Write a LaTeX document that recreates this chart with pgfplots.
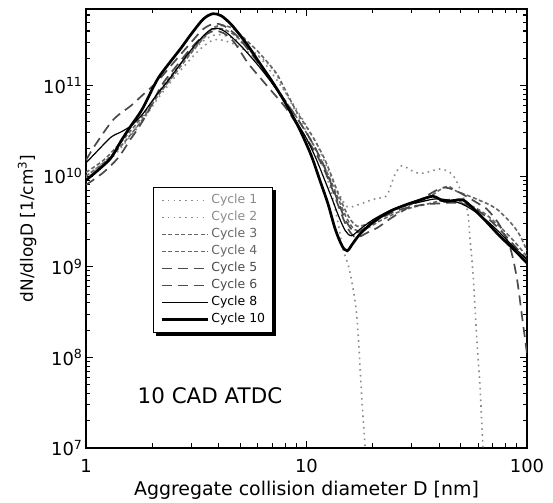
\documentclass[border=0pt]{standalone}
\usepackage{fontspec}
\setmainfont{DejaVu Sans}
\usepackage{pgfplots}
\pgfplotsset{compat=1.18}
\usetikzlibrary{backgrounds}

\definecolor{cyc12}{HTML}{8C8C8C}
\definecolor{cyc34}{HTML}{666666}
\definecolor{cyc56}{HTML}{4A4A4A}

\begin{document}
\begin{tikzpicture}
\begin{axis}[
  at={(0,0)}, anchor=south west,
  scale only axis, width=441bp, height=439bp,
  xmode=log, ymode=log,
  xmin=1, xmax=100, ymin=1e7, ymax=7e11,
  tick pos=both, tick align=inside,
  major tick length=7bp, minor tick length=4.5bp,
  every tick/.style={black, line width=1.1bp},
  axis line style={line width=1.5bp},
  xticklabel={\pgfmathparse{int(round(exp(\tick)))}\pgfmathresult},
  yticklabel={10\textsuperscript{\pgfmathparse{int(round(\tick/2.302585))}\pgfmathresult}},
  ticklabel style={font=\fontsize{18}{20}\selectfont},
  xticklabel style={yshift=-8bp},
  xlabel={Aggregate collision diameter D [nm]},
  ylabel={dN/dlogD [1/cm\textsuperscript{3}]},
  xlabel style={font=\fontsize{19}{21}\selectfont, yshift=-1bp},
  ylabel style={font=\fontsize{17}{19}\selectfont},
  legend cell align=left,
  legend style={name=leg, at={(0.152,0.5945)}, anchor=north west,
    draw=black, line width=1.2bp, fill=white,
    font=\fontsize{12.5}{14}\selectfont,
    nodes={inner sep=0pt, text height=9bp, text depth=2.5bp},
    row sep=5.5bp, column sep=2bp, inner xsep=7bp, inner ysep=7bp},
  legend image code/.code={\draw[#1] (0bp,0bp) -- (46bp,0bp);},
  every axis plot/.append style={smooth, tension=0.5},
]
% Cycle 1
\addplot[cyc12, line width=1.6bp, dash pattern=on 1.6bp off 4.2bp] coordinates {
 (1,9.5e9) (1.2,1.3e10) (1.4,1.9e10) (1.6,2.8e10) (1.8,4e10) (2.1,7e10) (2.5,1.2e11)
 (3,2e11) (3.4,2.7e11) (3.8,3.2e11) (4.2,3.15e11) (4.8,2.8e11) (5.5,2.3e11) (6.2,2.05e11)
 (7.2,1.4e11) (8,8.5e10) (9,5e10) (10,3.1e10) (11,2e10) (12,1.2e10) (13,6.5e9)
 (14,2.8e9) (14.6,1.6e9) (15.7,9e8) (16.9,2.9e8) (17.8,3.7e7) (18.4,1.1e7) (18.6,8e6)
};
\addlegendentry{\textcolor{cyc12}{Cycle 1}}
% Cycle 2
\addplot[cyc12, line width=1.6bp, dash pattern=on 1.6bp off 4.2bp] coordinates {
 (1,1e10) (1.2,1.4e10) (1.4,2e10) (1.6,2.9e10) (1.8,4.3e10) (2.1,7.5e10) (2.5,1.3e11)
 (3,2.3e11) (3.4,3.1e11) (3.8,3.6e11) (4.2,3.6e11) (4.8,3.2e11) (5.5,2.6e11) (6.2,2e11)
 (7,1.35e11) (8,8.5e10) (9,5.5e10) (10,3.6e10) (11,2.4e10) (12,1.5e10) (13,9.5e9)
 (14,6.5e9) (15.3,4.6e9) (17,4.8e9) (19,5.3e9) (20.9,5.7e9) (23.1,6.1e9) (25.1,1.02e10)
 (27,1.3e10) (30,1.15e10) (32.5,1.07e10) (36,1.12e10) (40.2,1.2e10) (44.7,1.1e10)
 (47.9,8.8e9) (53.4,4.4e9) (55.2,2e9) (57.1,7.4e8) (59.2,1.6e8) (61.2,4.8e7) (63,1.1e7) (63.3,8e6)
};
\addlegendentry{\textcolor{cyc12}{Cycle 2}}
% Cycle 3
\addplot[cyc34, line width=1.6bp, dash pattern=on 4bp off 2.5bp] coordinates {
 (1,1.1e10) (1.2,1.5e10) (1.4,2.2e10) (1.6,3.2e10) (1.8,4.6e10) (2.1,8e10) (2.5,1.4e11)
 (3,2.4e11) (3.4,3.4e11) (3.8,4.4e11) (4.2,4.6e11) (4.7,4.2e11) (5.3,3.2e11) (6,2.4e11)
 (6.8,1.7e11) (7.4,1.3e11) (8.2,8e10) (9,5.2e10) (10,3.5e10) (11,2.4e10) (12,1.6e10)
 (12.8,1.1e10) (14,6.2e9) (15,4.2e9) (16,3.2e9) (17,2.8e9) (19,3e9) (22,3.7e9) (26,4.4e9)
 (30,4.9e9) (35,5.6e9) (40,7e9) (44,7.7e9) (48,6.8e9) (55,6e9) (61,5.4e9) (68,4.8e9)
 (75,4.1e9) (86,2.9e9) (93,2.2e9) (100,1.5e9)
};
\addlegendentry{\textcolor{cyc34}{Cycle 3}}
% Cycle 4
\addplot[cyc34, line width=1.6bp, dash pattern=on 4bp off 2.5bp] coordinates {
 (1,1e10) (1.2,1.4e10) (1.4,2e10) (1.6,2.9e10) (1.8,4.2e10) (2.1,7.5e10) (2.5,1.3e11)
 (3,2.3e11) (3.4,3.3e11) (3.8,4.2e11) (4.2,4.2e11) (4.8,3.5e11) (5.5,2.5e11) (6.3,1.6e11)
 (7.2,1e11) (8,6.8e10) (9,4.5e10) (10,3e10) (11,2e10) (12,1.3e10) (13,8.5e9) (14,5.5e9)
 (15,3.7e9) (16,2.8e9) (17,2.5e9) (19,2.7e9) (22,3.3e9) (26,4e9) (30,4.5e9) (35,4.9e9)
 (40,5.3e9) (45,5.5e9) (50,5.2e9) (57,4.6e9) (65,3.8e9) (75,2.8e9) (86,2e9) (100,1.3e9)
};
\addlegendentry{\textcolor{cyc34}{Cycle 4}}
% Cycle 5
\addplot[cyc56, line width=1.7bp, dash pattern=on 10bp off 6bp] coordinates {
 (1,1.5e10) (1.1,2.2e10) (1.33,4.2e10) (1.6,6e10) (1.8,7.8e10) (2.1,1.1e11) (2.5,1.8e11)
 (3,3e11) (3.4,4.2e11) (3.8,4.8e11) (4.2,4.6e11) (4.8,3.6e11) (5.5,2.4e11) (6.5,1.4e11)
 (7.5,8.5e10) (8.5,5.5e10) (10,3e10) (11,2e10) (12,1.3e10) (13,8e9) (14,5e9) (15,3.3e9)
 (16,2.6e9) (17,2.4e9) (19,2.8e9) (22,3.5e9) (26,4.2e9) (30,4.6e9) (35,4.9e9) (40,5e9)
 (45,5.1e9) (50,5e9) (57,4.5e9) (65,3.6e9) (75,2.6e9) (86,1.8e9) (100,1.2e9)
};
\addlegendentry{\textcolor{cyc56}{Cycle 5}}
% Cycle 6
\addplot[cyc56, line width=1.7bp, dash pattern=on 10bp off 6bp] coordinates {
 (1,8e9) (1.2,1.1e10) (1.4,1.6e10) (1.6,2.6e10) (1.7,3.2e10) (1.9,5e10) (2.2,1e11)
 (2.6,1.7e11) (3,2.6e11) (3.4,3.5e11) (3.8,4e11) (4.2,3.8e11) (4.7,3e11) (5.4,1.8e11)
 (6.2,1.2e11) (7,8.5e10) (8,5.8e10) (9,3.8e10) (10,2.6e10) (11,1.8e10) (12,1.2e10)
 (13,7.5e9) (14,4.6e9) (15,3e9) (16,2.3e9) (17,2.1e9) (19,2.4e9) (21,2.7e9) (24,3.4e9)
 (28,4.3e9) (33,5.5e9) (38,6.8e9) (42,7.5e9) (47,7e9) (53,6e9) (60,5e9) (66,4.3e9)
 (75,2.9e9) (84,1.6e9) (90,7.4e8) (95,2.8e8) (100,1.1e8)
};
\addlegendentry{\textcolor{cyc56}{Cycle 6}}
% Cycle 8
\addplot[black, line width=1.2bp] coordinates {
 (1,1.4e10) (1.15,2e10) (1.3,2.7e10) (1.45,3.1e10) (1.6,3.6e10) (1.8,4.8e10) (2.1,8e10)
 (2.4,1.2e11) (2.8,2e11) (3.2,3e11) (3.6,4e11) (3.9,4.3e11) (4.3,3.9e11) (5,2.8e11)
 (6,1.7e11) (7,1.05e11) (8,6.5e10) (9,4e10) (10,2.6e10) (11,1.6e10) (12,9.5e9) (13,5.8e9)
 (14,3.6e9) (15,2.5e9) (16,2.2e9) (17.5,2.6e9) (20,3.3e9) (24,4.2e9) (28,4.8e9) (33,5.2e9)
 (38,5.6e9) (43,5.5e9) (50,5e9) (57,4.2e9) (65,3.3e9) (75,2.4e9) (86,1.7e9) (100,1.2e9)
};
\addlegendentry{Cycle 8}
% Cycle 10
\addplot[black, line width=2.7bp] coordinates {
 (1,9e9) (1.15,1.2e10) (1.3,1.6e10) (1.45,2.5e10) (1.6,3.6e10) (1.8,5.5e10) (2.1,1.15e11)
 (2.4,1.8e11) (2.7,2.6e11) (3,3.7e11) (3.4,5.4e11) (3.75,6.2e11) (4.1,5.9e11) (4.6,4.6e11)
 (5.4,2.8e11) (6.2,1.7e11) (7,1.1e11) (8,6.5e10) (9.3,3.3e10) (10.5,1.7e10) (11.5,9e9)
 (12.5,5e9) (13.5,2.6e9) (14.5,1.7e9) (15.3,1.5e9) (16.2,1.8e9) (17.5,2.3e9) (20,3.1e9)
 (24,4.1e9) (28,4.8e9) (33,5.5e9) (37.5,6e9) (42,5.3e9) (47,5.4e9) (51,5.5e9) (56,4.6e9)
 (65,3.2e9) (75,2.2e9) (86,1.6e9) (100,1.1e9)
};
\addlegendentry{Cycle 10}
\node[font=\fontsize{21.5}{24}\selectfont] at (axis cs:3.65,3.76e7) {10 CAD ATDC};
\end{axis}
\begin{pgfonlayer}{background}
\fill[black] ([xshift=3bp,yshift=-3bp]leg.south west) rectangle ([xshift=3bp,yshift=-3bp]leg.north east);
\end{pgfonlayer}
\pgfresetboundingbox
\path[use as bounding box] (-86bp,-55bp) rectangle (467bp,448bp);
\end{tikzpicture}
\end{document}
